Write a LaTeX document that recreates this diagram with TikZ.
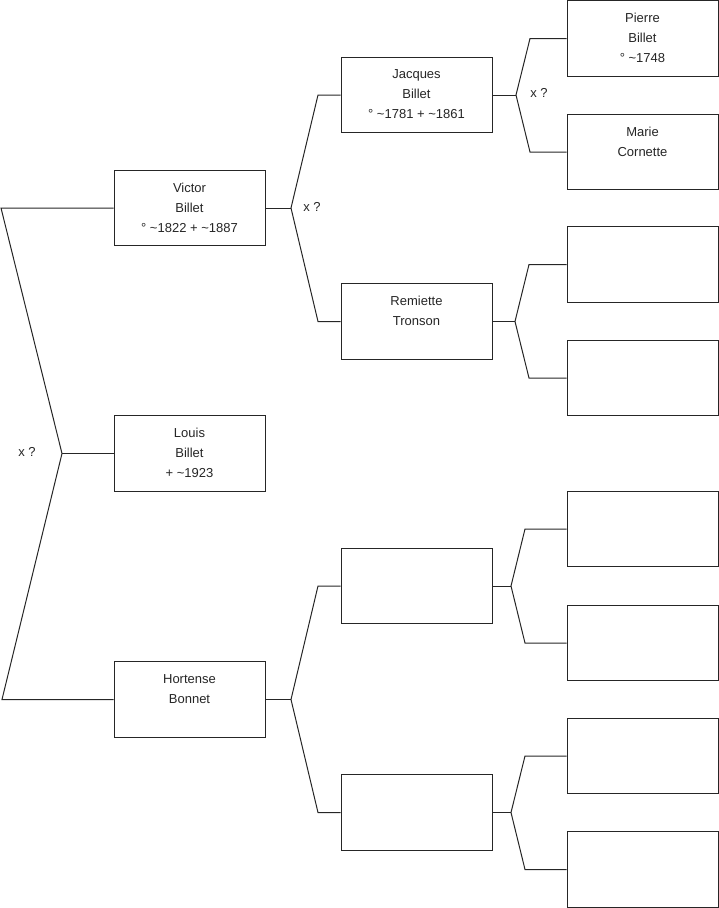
\documentclass[tikz,border=0pt]{standalone}
\usepackage{fontspec}
\setmainfont{Liberation Sans}
\begin{document}
\begin{tikzpicture}[x=1pt,y=-1pt,
  box/.style={draw=black!85,line width=1pt,fill=white,minimum width=151pt,minimum height=75.5pt,inner sep=0pt},
  txt/.style={anchor=north,align=center,inner sep=0pt,yshift=-13pt,font=\fontsize{13}{20}\selectfont,text=black!85},
  conn/.style={draw=black!85,line width=1pt},
  lbl/.style={font=\fontsize{13}{15}\selectfont,inner sep=0pt,text=black!85}]
\useasboundingbox (0,0) rectangle (719,908);
% column 1
\node[box,label={[txt]north:{Victor\\Billet\\° \textasciitilde1822 + \textasciitilde1887}}] (victor) at (189.5,208) {};
\node[box,label={[txt]north:{Louis\\Billet\\+ \textasciitilde1923}}] (louis) at (189.5,453.5) {};
\node[box,label={[txt]north:{Hortense\\Bonnet}}] (hortense) at (189.5,699.5) {};
% column 2
\node[box,label={[txt]north:{Jacques\\Billet\\° \textasciitilde1781 + \textasciitilde1861}}] (jacques) at (416.5,95) {};
\node[box,label={[txt]north:{Remiette\\Tronson}}] (remiette) at (416.5,321.5) {};
\node[box] (e1) at (416.5,586) {};
\node[box] (e2) at (416.5,812.5) {};
% column 3
\node[box,label={[txt]north:{Pierre\\Billet\\° \textasciitilde1748}}] (pierre) at (642.5,38.5) {};
\node[box,label={[txt]north:{Marie\\Cornette}}] (marie) at (642.5,152) {};
\node[box] (f1) at (642.5,264.5) {};
\node[box] (f2) at (642.5,378) {};
\node[box] (f3) at (642.5,529) {};
\node[box] (f4) at (642.5,643) {};
\node[box] (f5) at (642.5,756) {};
\node[box] (f6) at (642.5,869.5) {};
% left bracket
\coordinate (L1) at (1,208);
\coordinate (L2) at (62,453.5);
\coordinate (L3) at (2,699.5);
\draw[conn] (victor.west) -- (L1) -- (L2) -- (L3) -- (hortense.west);
\draw[conn] (L2) -- (louis.west);
\node[lbl] (x1) at (27,452) {x ?};
% Victor
\coordinate (vj) at (291,208);
\coordinate (va) at (318,95);
\coordinate (vb) at (318,321.5);
\draw[conn] (victor.east) -- (vj);
\draw[conn] (jacques.west) -- (va) -- (vj) -- (vb) -- (remiette.west);
\node[lbl] (x2) at (312,207) {x ?};
% Hortense
\coordinate (hj) at (291,699.5);
\coordinate (ha) at (318,586);
\coordinate (hb) at (318,812.5);
\draw[conn] (hortense.east) -- (hj);
\draw[conn] (e1.west) -- (ha) -- (hj) -- (hb) -- (e2.west);
% Jacques
\coordinate (jj) at (516,95);
\coordinate (ja) at (530,38.5);
\coordinate (jb) at (530,152);
\draw[conn] (jacques.east) -- (jj);
\draw[conn] (pierre.west) -- (ja) -- (jj) -- (jb) -- (marie.west);
\node[lbl] (x3) at (539,93) {x ?};
% Remiette
\coordinate (rj) at (515,321.5);
\coordinate (ra) at (529,264.5);
\coordinate (rb) at (529,378);
\draw[conn] (remiette.east) -- (rj);
\draw[conn] (f1.west) -- (ra) -- (rj) -- (rb) -- (f2.west);
% empty 1
\coordinate (aj) at (511,586);
\coordinate (aa) at (525,529);
\coordinate (ab) at (525,643);
\draw[conn] (e1.east) -- (aj);
\draw[conn] (f3.west) -- (aa) -- (aj) -- (ab) -- (f4.west);
% empty 2
\coordinate (bj) at (511,812.5);
\coordinate (ba) at (525,756);
\coordinate (bb) at (525,869.5);
\draw[conn] (e2.east) -- (bj);
\draw[conn] (f5.west) -- (ba) -- (bj) -- (bb) -- (f6.west);
\end{tikzpicture}
\end{document}
